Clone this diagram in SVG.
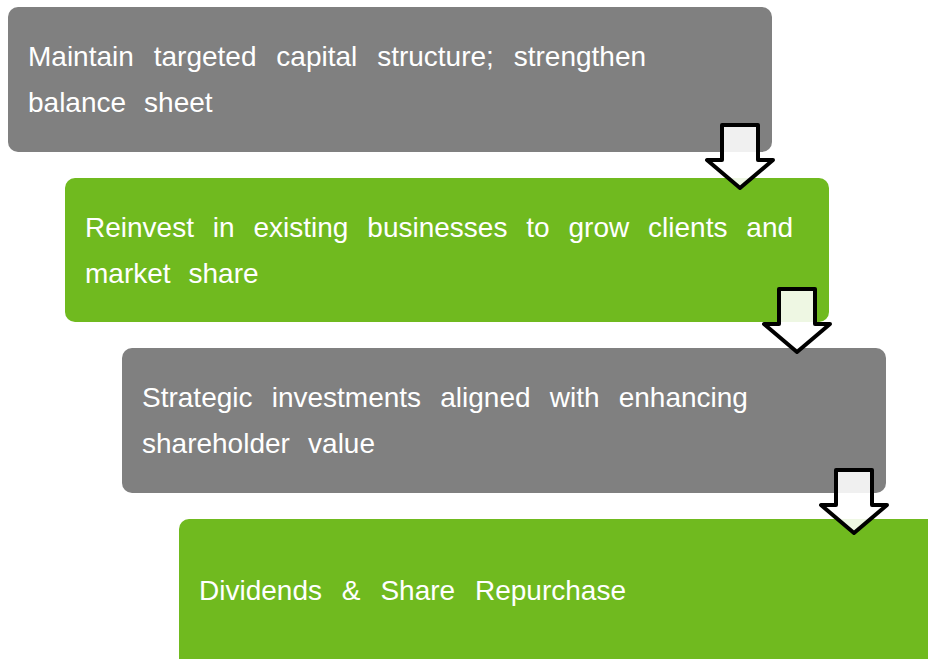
<svg xmlns="http://www.w3.org/2000/svg" width="928" height="659" viewBox="0 0 928 659">
  <style>
    .box-gray { fill: #808080; }
    .box-green { fill: #70ba1f; }
    .label { font-family: "Liberation Sans", Arial, sans-serif; font-size: 28px; fill: #ffffff; }
    .flow { fill: #ffffff; fill-opacity: 0.88; stroke: #000000; stroke-width: 4; stroke-linejoin: round; }
  </style>
  <defs>
    <!-- block arrow pointing down, origin at shaft top centre -->
    <path id="down-arrow" d="M -18 0 L 18 0 L 18 35 L 33 35 L 0 63 L -33 35 L -18 35 Z"/>
  </defs>

  <rect width="928" height="659" fill="#ffffff"/>

  <g id="step-capital">
    <rect class="box-gray" x="8" y="7" width="764" height="145" rx="10"/>
    <text class="label" x="28" y="66" word-spacing="12.1">Maintain targeted capital structure; strengthen</text>
    <text class="label" x="28" y="112" word-spacing="10.2">balance sheet</text>
  </g>

  <g id="step-reinvest">
    <rect class="box-green" x="65" y="178" width="764" height="144" rx="10"/>
    <text class="label" x="85" y="237" word-spacing="11.1">Reinvest in existing businesses to grow clients and</text>
    <text class="label" x="85" y="283" word-spacing="10.2">market share</text>
  </g>

  <g id="step-strategic">
    <rect class="box-gray" x="122" y="348" width="764" height="145" rx="10"/>
    <text class="label" x="142" y="407" word-spacing="11.4">Strategic investments aligned with enhancing</text>
    <text class="label" x="142" y="453" word-spacing="10.4">shareholder value</text>
  </g>

  <g id="step-returns">
    <rect class="box-green" x="179" y="519" width="780" height="160" rx="10"/>
    <text class="label" x="199" y="600" word-spacing="12.1">Dividends &amp; Share Repurchase</text>
  </g>

  <g id="connectors">
    <use href="#down-arrow" class="flow" transform="translate(740,125)"/>
    <use href="#down-arrow" class="flow" transform="translate(797,289)"/>
    <use href="#down-arrow" class="flow" transform="translate(854,470)"/>
  </g>
</svg>
